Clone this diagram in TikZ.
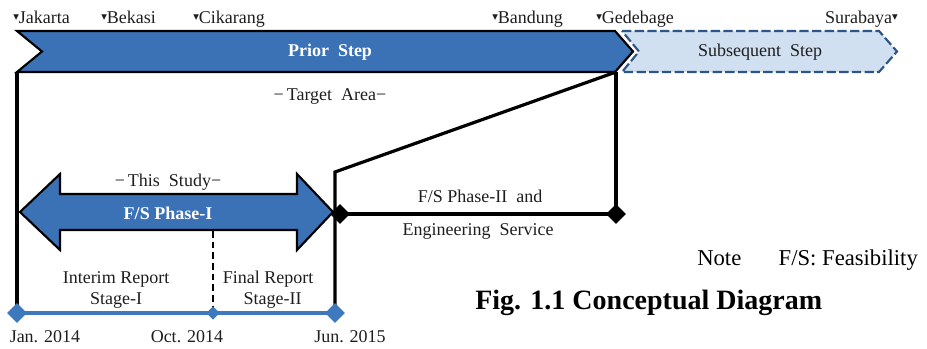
\documentclass[tikz,border=0pt]{standalone}
\usepackage{fontspec}
\setmainfont{Liberation Serif}
\newfontfamily\symfont{DejaVu Sans}
\usetikzlibrary{shapes.geometric}
\definecolor{stepblue}{RGB}{59,113,181}
\definecolor{paleblue}{RGB}{208,224,241}
\definecolor{dashblue}{RGB}{45,85,135}
\definecolor{lineblue}{RGB}{62,121,190}
\definecolor{inkgray}{RGB}{30,30,30}
\newcommand{\pin}{\raisebox{0.55ex}{\symfont\fontsize{5.5}{5.5}\selectfont ▼}}
\begin{document}
\begin{tikzpicture}[x=0.75pt,y=-0.75pt,
  lbl/.style={font=\fontsize{13.5}{16}\selectfont, inner sep=0pt, text=inkgray},
  boldlbl/.style={font=\fontsize{13.5}{16}\selectfont\bfseries, inner sep=0pt, text=white},
  frame/.style={line width=2.4pt, black},
  outline/.style={line width=1.6pt, draw=black},
  bdot/.style={diamond, fill=black, inner sep=0pt, minimum size=#1},
  tdot/.style={diamond, fill=lineblue, inner sep=0pt, minimum size=#1}]
\useasboundingbox (0,0) rectangle (927,349);

% location names along the route
\node[lbl, anchor=base west] (jak) at (13,24) {\pin Jakarta};
\node[lbl, anchor=base west] (bek) at (101,24) {\pin Bekasi};
\node[lbl, anchor=base west] (cik) at (193,24) {\pin Cikarang};
\node[lbl, anchor=base west] (ban) at (492,24) {\pin Bandung};
\node[lbl, anchor=base west] (ged) at (596,24) {\pin Gedebage};
\node[lbl, anchor=base east] (sur) at (898,24) {Surabaya\pin};

% subsequent step (dashed chevron)
\draw[dashblue, line width=1.6pt, dash pattern=on 7pt off 2.5pt, fill=paleblue]
  (622,31) -- (879,31) -- (897,51.5) -- (879,72) -- (622,72) -- (639,51.5) -- cycle;
\node[lbl] (sub) at (760,52) {Subsequent\ \ Step};

% prior step (solid chevron)
\draw[outline, fill=stepblue]
  (17,31) -- (615,31) -- (633,51.5) -- (615,72) -- (17,72) -- (42,51.5) -- cycle;
\node[boldlbl] (pri) at (330,52) {Prior\ \ Step};

% target area frame
\coordinate (tl) at (17,72);
\coordinate (tr) at (616,72);
\coordinate (bend) at (335,172);
\coordinate (t0) at (17,313);
\coordinate (t1) at (213,313);
\coordinate (t2) at (335,313);
\node[lbl] (area) at (330,97) {−\,Target\ \ Area−};
\draw[frame] (tl) -- (t0);
\draw[frame, line join=miter] (tr) -- (bend) -- (t2);

% phase II segment
\node[bdot=15pt] (p2a) at (340,214) {};
\node[bdot=15pt] (p2b) at (616,214) {};
\draw[frame] (tr) -- (p2b.center);
\draw[frame] (bend |- p2a) -- (p2b.center);
\node[lbl] (ph2a) at (480,196) {F/S Phase-II\ \ and};
\node[lbl] (ph2b) at (478,231) {Engineering\ \ Service};

% this study: double arrow
\draw[outline, fill=stepblue]
  (20,212) -- (60,174) -- (60,194) -- (297,194) -- (297,174) -- (333,212)
  -- (297,250) -- (297,230) -- (60,230) -- (60,250) -- cycle;
\node[lbl] (study) at (168,182) {−\,This\ \ Study−};
\node[boldlbl] (ph1) at (168,213) {F/S Phase-I};

% stage split
\draw[black, line width=1.5pt, dash pattern=on 5pt off 3pt] (213,231) -- (t1);
\node[lbl, align=center] (st1) at (116,290) {Interim Report\\Stage-I};
\node[lbl, align=center] (st2) at (268,290) {Final Report\\\ \ Stage-II};

% time line
\draw[lineblue, line width=3pt] (t0) -- (t2);
\node[tdot=15pt] (d0) at (t0) {};
\node[tdot=10pt] (d1) at (t1) {};
\node[tdot=15pt] (d2) at (t2) {};
\node[lbl, anchor=base] (jan) at (45,342) {Jan. 2014};
\node[lbl, anchor=base] (oct) at (187,342) {Oct. 2014};
\node[lbl, anchor=base] (jun) at (350,342) {Jun. 2015};

% note and caption
\node[font=\fontsize{17}{20}\selectfont, inner sep=0pt, anchor=base west] (note) at (697,265) {Note\hspace{28pt}F/S: Feasibility};
\node[font=\fontsize{21}{24}\selectfont\bfseries, inner sep=0pt, anchor=base west] (cap) at (475,309) {Fig. 1.1 Conceptual Diagram};
\end{tikzpicture}
\end{document}
